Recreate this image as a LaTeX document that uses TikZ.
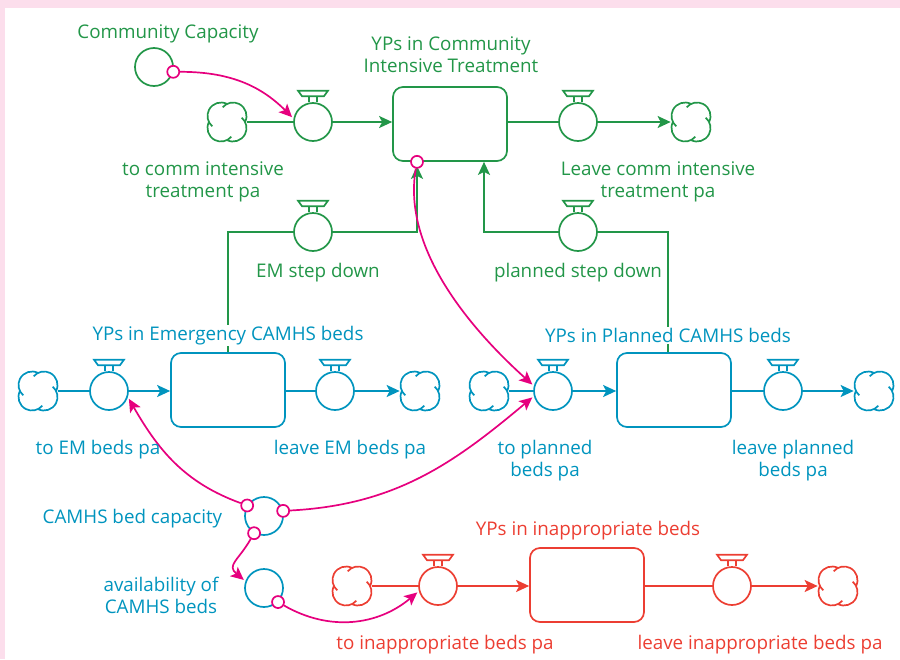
\documentclass[tikz,border=0pt]{standalone}
\usepackage{fontspec}
\setmainfont{Open Sans}
\usepackage{tikz}
\usetikzlibrary{arrows.meta}
\definecolor{sdgreen}{RGB}{34,150,72}
\definecolor{sdblue}{RGB}{0,148,190}
\definecolor{sdred}{RGB}{236,62,50}
\definecolor{sdpink}{RGB}{230,0,126}
\definecolor{frame}{RGB}{252,222,236}
\tikzset{
	stock/.style={draw, rounded corners=10pt, minimum width=114pt, minimum height=74pt},
	valve/.style={draw, circle, minimum size=38pt, inner sep=0pt},
	aux/.style={draw, circle, minimum size=38pt, inner sep=0pt},
	cloudspot/.style={circle, minimum size=39pt, inner sep=0pt},
	dot/.style={draw=sdpink, fill=white, circle, minimum size=12pt, inner sep=0pt},
	link/.style={color=sdpink, ->, shorten >=2pt},
	lbl/.style={font=\fontsize{18.8}{22}\selectfont, align=center, inner sep=1pt, yshift=-2.5pt}
}
\newcommand{\valvehat}[1]{%
	\draw ([xshift=-4pt]#1.north) -- ++(0,-6) ++(8,0) -- ++(0,6);
	\draw ([yshift=6pt]#1.north) ++(-11,0) -- ++(22,0) -- ++(4,-5.5) -- ++(-30,0) -- cycle;}
\newcommand{\cloudshape}[1]{%
	\foreach \a in {45,135,225,315}
	{\draw[shift={(#1.center)}, shift={(\a:8.5pt)}] (\a-72:13.5pt) arc[start angle=\a-72, end angle=\a+95, radius=13.5pt];}}
\begin{document}
\begin{tikzpicture}[x=1pt, y=-1pt, line width=1.7pt, >={Stealth[length=13pt, width=12pt, inset=3pt]}]
	\useasboundingbox (0,0) rectangle (900,659);
	\fill[frame] (0,0) rectangle (900,8);
	\fill[frame] (0,0) rectangle (5,659);
	%Community
	\begin{scope}[sdgreen]
	\node[aux] (cc) at (154,67) {};
	\node[cloudspot] (citc1) at (227,122) {};
	\node[valve] (citin) at (313,122) {};
	\node[stock] (cit) at (450,124) {};
	\node[valve] (citout) at (578,122) {};
	\node[cloudspot] (citc2) at (691,122) {};
	\node[valve] (emsd) at (313,232) {};
	\node[valve] (plsd) at (578,232) {};
	\foreach \v in {citin,citout,emsd,plsd} {\valvehat{\v}}
	\cloudshape{citc1}
	\cloudshape{citc2}
	\draw (citc1) -- (citin);
	\draw[->] (citin) -- (citin -| cit.west);
	\draw (citout -| cit.east) -- (citout);
	\draw[->] (citout) -- (citc2);
	\end{scope}
	%Emergency and planned beds
	\begin{scope}[sdblue]
	\node[cloudspot] (emc1) at (38,391) {};
	\node[valve] (emin) at (109,391) {};
	\node[stock] (em) at (228,390) {};
	\node[valve] (emout) at (335,391) {};
	\node[cloudspot] (emc2) at (420,391) {};
	\node[cloudspot] (plc1) at (489,391) {};
	\node[valve] (plin) at (553,391) {};
	\node[stock] (pl) at (674,390) {};
	\node[valve] (plout) at (783,391) {};
	\node[cloudspot] (plc2) at (874,391) {};
	\node[aux] (cap) at (264,516) {};
	\node[aux] (avail) at (264,588) {};
	\foreach \v in {emin,emout,plin,plout} {\valvehat{\v}}
	\foreach \c in {emc1,emc2,plc1,plc2} {\cloudshape{\c}}
	\draw (emc1) -- (emin);
	\draw[->] (emin) -- (emin -| em.west);
	\draw (emout -| em.east) -- (emout);
	\draw[->] (emout) -- (emc2);
	\draw (plc1) -- (plin);
	\draw[->] (plin) -- (plin -| pl.west);
	\draw (plout -| pl.east) -- (plout);
	\draw[->] (plout) -- (plc2);
	\end{scope}
	%Step down
	\begin{scope}[sdgreen]
	\draw (em.north) |- (emsd.west);
	\draw[->, shorten >=4pt] (emsd.east) -| ([xshift=-33pt]cit.south);
	\draw ([xshift=-6pt]pl.north) |- (plsd.east);
	\draw[->] (plsd.west) -| ([xshift=34pt]cit.south);
	\end{scope}
	%Inappropriate beds
	\begin{scope}[sdred]
	\node[cloudspot] (irc1) at (352,586) {};
	\node[valve] (irin) at (438,586) {};
	\node[stock] (ir) at (587,585) {};
	\node[valve] (irout) at (732,586) {};
	\node[cloudspot] (irc2) at (838,586) {};
	\foreach \v in {irin,irout} {\valvehat{\v}}
	\cloudshape{irc1}
	\cloudshape{irc2}
	\draw (irc1) -- (irin);
	\draw[->] (irin) -- (irin -| ir.west);
	\draw (irout -| ir.east) -- (irout);
	\draw[->] (irout) -- (irc2);
	\end{scope}
	%Links
	\node[dot] (ccd) at (cc.-14) {};
	\node[dot] (citd) at ([xshift=-33pt]cit.south) {};
	\node[dot] (capd1) at (cap.148) {};
	\node[dot] (capd2) at (cap.15) {};
	\node[dot] (capd3) at (cap.-120) {};
	\node[dot] (availd) at (avail.-45) {};
	\draw[link] (ccd) to[out=0, in=135] (citin.170);
	\draw[link] (citd) to[out=-100, in=138, looseness=0.85] (plin.165);
	\draw[link] (capd1) to[out=160, in=-60] (emin.-18);
	\draw[link] (capd2) to[out=3, in=-140] (plin.195);
	\draw[link] (capd3) to[out=-120, in=140, looseness=1.5] (avail.160);
	\draw[link] (availd) to[out=-30, in=-140] (irin.195);
	%Labels
	\begin{scope}[sdgreen]
	\node[lbl] (cclbl) at (168,31) {Community Capacity};
	\node[lbl] (citlbl) at (451,52) {YPs in Community\\Intensive Treatment};
	\node[lbl] (citinlbl) at (203,179) {to comm intensive\\treatment pa};
	\node[lbl] (citoutlbl) at (658,179) {Leave comm intensive\\treatment pa};
	\node[lbl] (emsdlbl) at (318,270) {EM step down};
	\node[lbl] (plsdlbl) at (578,270) {planned step down};
	\end{scope}
	\begin{scope}[sdblue]
	\node[lbl, fill=white] (emlbl) at (228,333) {YPs in Emergency CAMHS beds};
	\node[lbl, fill=white] (pllbl) at (668,333) {YPs in Planned CAMHS beds};
	\node[lbl] (eminlbl) at (98,447) {to EM beds pa};
	\node[lbl] (emoutlbl) at (350,447) {leave EM beds pa};
	\node[lbl] (plinlbl) at (545,458) {to planned\\beds pa};
	\node[lbl] (ploutlbl) at (793,458) {leave planned\\beds pa};
	\node[lbl, anchor=east] (caplbl) at (224,516) {CAMHS bed capacity};
	\node[lbl] (availlbl) at (161,593) {availability of\\CAMHS beds};
	\end{scope}
	\begin{scope}[sdred]
	\node[lbl] (irlbl) at (588,528) {YPs in inappropriate beds};
	\node[lbl] (irinlbl) at (445,642) {to inappropriate beds pa};
	\node[lbl] (iroutlbl) at (760,642) {leave inappropriate beds pa};
	\end{scope}
\end{tikzpicture}
\end{document}
